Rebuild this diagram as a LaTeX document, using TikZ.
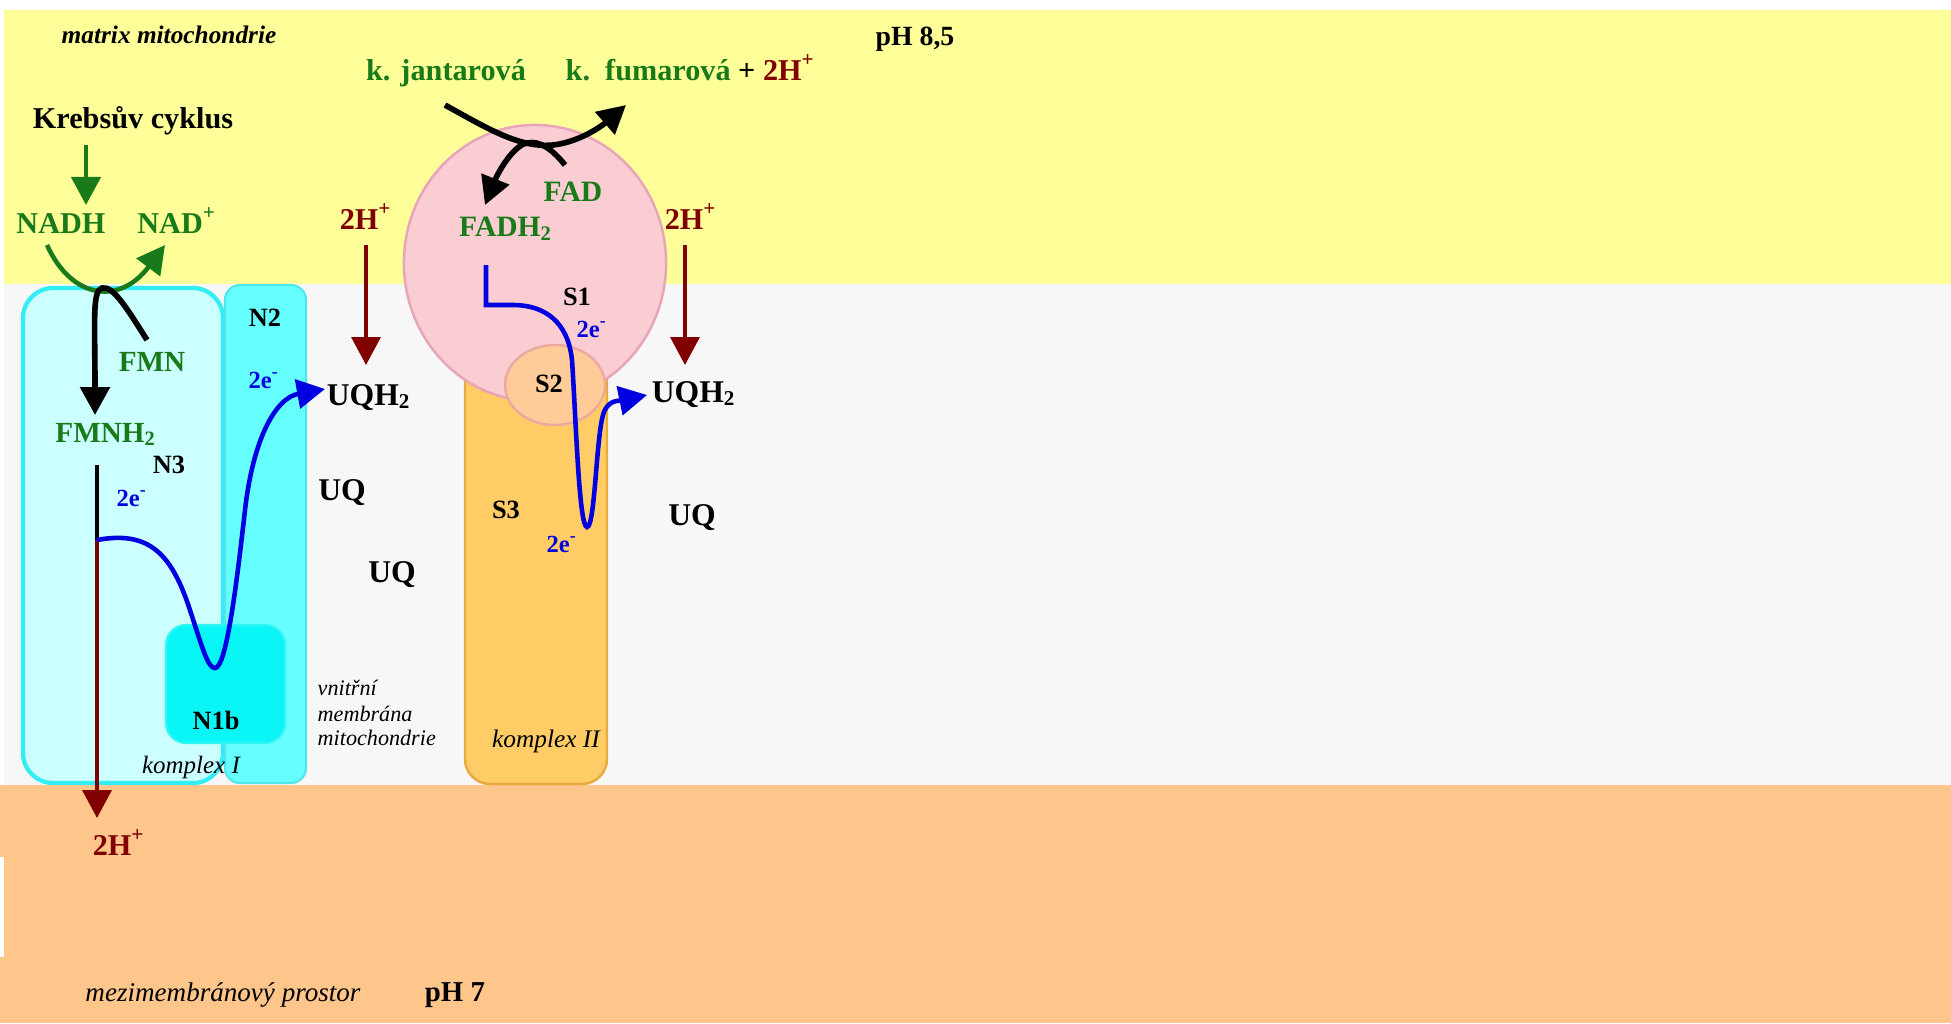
\documentclass[tikz,border=0pt]{standalone}
\usepackage{fontspec}
\setmainfont{Liberation Serif}
\usetikzlibrary{arrows.meta}
\definecolor{bgyellow}{RGB}{255,255,153}
\definecolor{bggray}{RGB}{247,247,247}
\definecolor{bgorange}{RGB}{255,198,140}
\definecolor{cIfill}{RGB}{204,255,255}
\definecolor{cIborder}{RGB}{50,238,242}
\definecolor{ntwofill}{RGB}{102,255,255}
\definecolor{ntwoborder}{RGB}{80,230,235}
\definecolor{nonebfill}{RGB}{10,245,245}
\definecolor{pinkfill}{RGB}{250,205,210}
\definecolor{pinkborder}{RGB}{232,165,185}
\definecolor{cIIfill}{RGB}{255,204,102}
\definecolor{cIIborder}{RGB}{232,170,60}
\definecolor{stwofill}{RGB}{255,204,153}
\definecolor{stwoborder}{RGB}{235,170,160}
\definecolor{tgreen}{RGB}{25,122,25}
\definecolor{tred}{RGB}{128,0,0}
\definecolor{eblue}{RGB}{0,0,225}
\tikzset{
  txt/.style={inner sep=0pt, anchor=base, font=\fontsize{8.6}{10}\selectfont\bfseries},
  gtxt/.style={txt, text=tgreen},
  rtxt/.style={txt, text=tred},
  uqtxt/.style={txt, font=\fontsize{9}{10}\selectfont\bfseries},
  smalltxt/.style={txt, font=\fontsize{7.5}{9}\selectfont\bfseries},
  etxt/.style={txt, text=eblue, font=\fontsize{7}{8}\selectfont\bfseries},
  itxt/.style={inner sep=0pt, anchor=base, font=\fontsize{7.1}{8}\selectfont\itshape},
  tip/.style={-{Triangle[length=2.8mm,width=2.9mm]}},
  blkarr/.style={tip, line width=1.6pt, black},
  grnarr/.style={tip, line width=1.3pt, tgreen},
  redarr/.style={tip, line width=1.0pt, tred},
  bluarr/.style={tip, line width=1.3pt, eblue},
}
\begin{document}
\begin{tikzpicture}[x=0.01cm,y=-0.01cm]
\useasboundingbox (0,0) rectangle (1951,1023);
% background bands
\fill[white] (0,0) rectangle (1951,1023);
\fill[bgyellow] (4,10) rectangle (1951,284);
\fill[bggray] (4,284) rectangle (1951,785);
\fill[bgorange] (0,785) rectangle (1951,1023);
\fill[white] (0,857) rectangle (4,957);

% complex I
\filldraw[fill=cIfill, draw=cIborder, line width=1.2pt, rounded corners=3mm] (23,288) rectangle (223,783);
\filldraw[fill=ntwofill, draw=ntwoborder, line width=0.6pt, rounded corners=1.5mm] (225,285) rectangle (306,783);
\filldraw[fill=nonebfill, draw=nonebfill!85!white, line width=0.6pt, rounded corners=2mm] (166,625) rectangle (285,743);

% complex II
\filldraw[fill=cIIfill, draw=cIIborder, line width=0.7pt, rounded corners=2.5mm] (465,330) rectangle (607,784);
\filldraw[fill=pinkfill, draw=pinkborder, line width=0.7pt] (535,263) ellipse [x radius=1.31cm, y radius=1.38cm];
\filldraw[fill=stwofill, draw=stwoborder, line width=0.7pt] (555,385) ellipse [x radius=0.5cm, y radius=0.4cm];

% text nodes
\node[itxt, font=\fontsize{7.2}{8}\selectfont\bfseries\itshape] (matrix) at (169,43) {matrix mitochondrie};
\node[txt, font=\fontsize{7.9}{9}\selectfont\bfseries] (phtop) at (915,45) {pH 8,5};
\node[gtxt] (jant) at (446,80) {k. jantarová};
\node[gtxt, anchor=base west] (fum) at (565,80) {k.\ \ fumarová \textcolor{black}{+} \textcolor{tred}{2H\textsuperscript{+}}};
\node[txt] (krebs) at (133,128) {Krebsův cyklus};
\node[gtxt] (nadh) at (61,233) {NADH};
\node[gtxt] (nad) at (177,233) {NAD\textsuperscript{+}};
\node[rtxt] (hA) at (366,229) {2H\textsuperscript{+}};
\node[rtxt] (hB) at (691,229) {2H\textsuperscript{+}};
\node[gtxt, font=\fontsize{8.4}{10}\selectfont\bfseries] (fad) at (573,201) {FAD};
\node[gtxt, font=\fontsize{8.4}{10}\selectfont\bfseries] (fadh) at (506,236) {FADH\textsubscript{2}};
\node[gtxt, font=\fontsize{8.3}{10}\selectfont\bfseries] (fmn) at (152,371) {FMN};
\node[gtxt, font=\fontsize{8.3}{10}\selectfont\bfseries] (fmnh) at (106,442) {FMNH\textsubscript{2}};
\node[smalltxt] (ntwo) at (265,326) {N2};
\node[smalltxt] (nthree) at (169,473) {N3};
\node[smalltxt] (noneb) at (216,729) {N1b};
\node[etxt] (eA) at (264,388) {2e\textsuperscript{-}};
\node[etxt] (eB) at (132,506) {2e\textsuperscript{-}};
\node[etxt] (eC) at (592,337) {2e\textsuperscript{-}};
\node[etxt] (eD) at (562,552) {2e\textsuperscript{-}};
\node[smalltxt] (sone) at (577,305) {S1};
\node[smalltxt] (stwo) at (549,392) {S2};
\node[smalltxt] (sthree) at (506,518) {S3};
\node[uqtxt] (uqhA) at (369,405) {UQH\textsubscript{2}};
\node[uqtxt] (uqhB) at (694,402) {UQH\textsubscript{2}};
\node[uqtxt] (uqA) at (342,500) {UQ};
\node[uqtxt] (uqB) at (392,582) {UQ};
\node[uqtxt] (uqC) at (692,525) {UQ};
\node[itxt] (kI) at (191,773) {komplex I};
\node[itxt, font=\fontsize{7.2}{8}\selectfont\itshape] (kII) at (546,747) {komplex II};
\node[itxt, font=\fontsize{6.3}{7}\selectfont\itshape, anchor=base west] (vnA) at (317,695) {vnitřní};
\node[itxt, font=\fontsize{6.3}{7}\selectfont\itshape, anchor=base west] (vnB) at (317,721) {membrána};
\node[itxt, font=\fontsize{6.3}{7}\selectfont\itshape, anchor=base west] (vnC) at (317,745) {mitochondrie};
\node[rtxt] (hC) at (119,855) {2H\textsuperscript{+}};
\node[itxt, font=\fontsize{7.7}{9}\selectfont\itshape] (mezi) at (223,1001) {mezimembránový prostor};
\node[txt, font=\fontsize{8.2}{9}\selectfont\bfseries] (phbot) at (455,1001) {pH 7};

% coordinates for connectors
\coordinate (kA) at (86,145);
\coordinate (kB) at (86,205);
\coordinate (gA) at (47,245);
\coordinate (gB) at (165,245);
\coordinate (fA) at (147,340);
\coordinate (fB) at (95,415);
\coordinate (mA) at (97,465);
\coordinate (mB) at (97,540);
\coordinate (mC) at (97,818);
\coordinate (bA) at (325,389);
\coordinate (pA) at (366,245);
\coordinate (pB) at (366,365);
\coordinate (qA) at (685,245);
\coordinate (qB) at (685,365);
\coordinate (jA) at (445,105);
\coordinate (jB) at (626,105);
\coordinate (dA) at (565,165);
\coordinate (dB) at (485,205);
\coordinate (cA) at (486,265);
\coordinate (cB) at (647,395);

% connectors
\draw[grnarr] (kA) -- (kB);
\draw[grnarr] (gA) .. controls (72,300) and (120,305) .. (gB);
\draw[blkarr] (fA) .. controls (128,310) and (113,285) .. (102,288) .. controls (92,291) and (95,320) .. (fB);
\draw[line width=1.4pt, black] (mA) -- (mB);
\draw[redarr] (mB) -- (mC);
\draw[bluarr] (mB) .. controls (150,530) and (172,555) .. (190,610) .. controls (203,650) and (208,668) .. (215,668) .. controls (226,668) and (236,590) .. (245,510) .. controls (253,440) and (275,398) .. (bA);
\draw[redarr] (pA) -- (pB);
\draw[redarr] (qA) -- (qB);
\draw[blkarr] (jA) .. controls (490,130) and (520,148) .. (553,145) .. controls (580,142) and (603,125) .. (jB);
\draw[blkarr] (dA) .. controls (553,150) and (540,140) .. (527,143) .. controls (512,146) and (497,175) .. (dB);
\draw[bluarr] (cA) -- (486,305) -- (513,305) .. controls (545,305) and (568,322) .. (572,360) .. controls (576,420) and (579,527) .. (587,527) .. controls (595,527) and (596,440) .. (603,415) .. controls (607,400) and (618,401) .. (cB);
\end{tikzpicture}
\end{document}
